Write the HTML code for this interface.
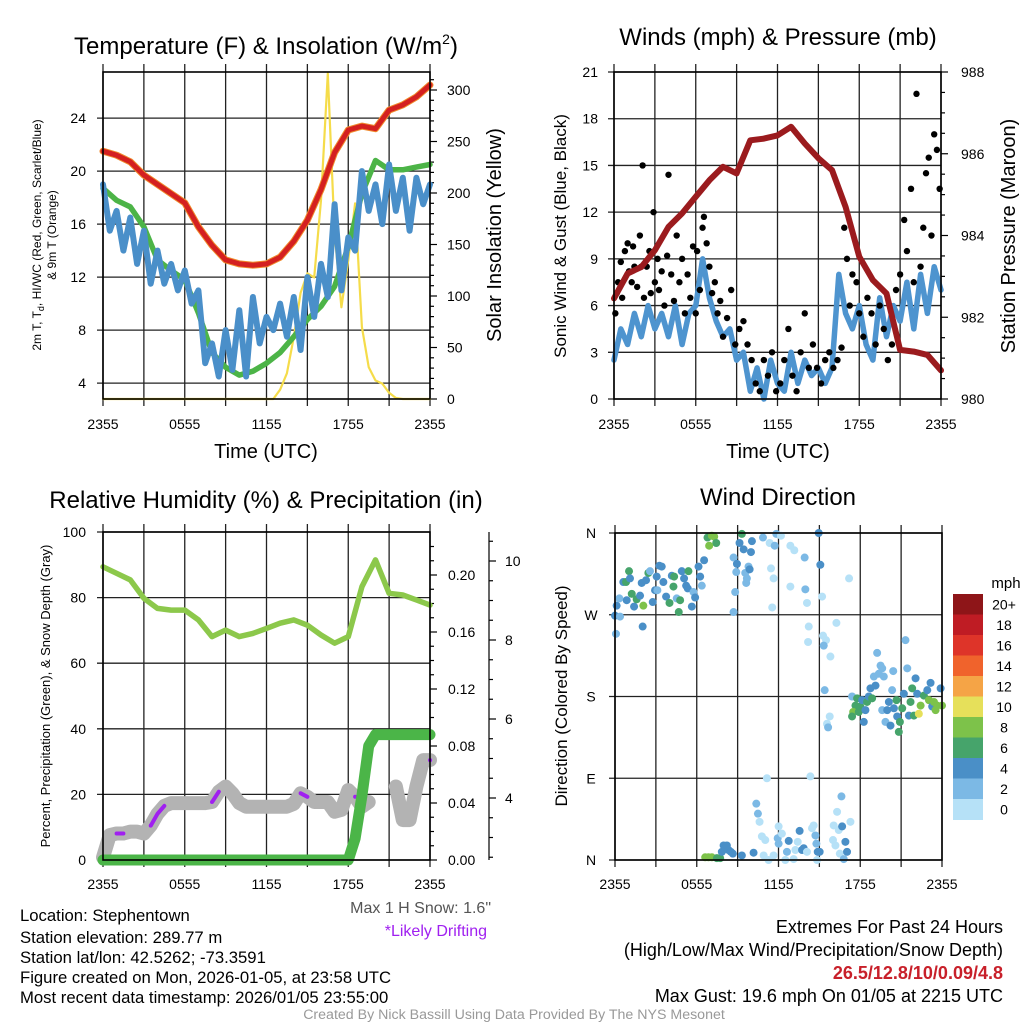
<!DOCTYPE html>
<html><head><meta charset="utf-8">
<style>
html,body{margin:0;padding:0;background:#fff;}
svg{display:block;font-family:"Liberation Sans",Arial,sans-serif;}
</style></head>
<body>
<svg id="chart" width="1024" height="1024" viewBox="0 0 1024 1024" xmlns="http://www.w3.org/2000/svg">
<rect x="0" y="0" width="1024" height="1024" fill="#fff"/>
<text x="266" y="54" font-size="24" text-anchor="middle">Temperature (F) &amp; Insolation (W/m<tspan font-size="14" dy="-10">2</tspan><tspan dy="10">)</tspan></text>
<text x="778" y="45" font-size="24" text-anchor="middle">Winds (mph) &amp; Pressure (mb)</text>
<text x="266" y="508" font-size="24" text-anchor="middle">Relative Humidity (%) &amp; Precipitation (in)</text>
<text x="778" y="505" font-size="24" text-anchor="middle">Wind Direction</text>

<text transform="translate(41,235) rotate(-90)" font-size="12" text-anchor="middle">2m T, T<tspan font-size="9" dy="3">d</tspan><tspan dy="-3">, HI/WC (Red, Green, Scarlet/Blue)</tspan></text>
<text transform="translate(56,235) rotate(-90)" font-size="12" text-anchor="middle">&amp; 9m T (Orange)</text>
<text transform="translate(501,235) rotate(-90)" font-size="20" text-anchor="middle">Solar Insolation (Yellow)</text>
<text x="266" y="458" font-size="20" text-anchor="middle">Time (UTC)</text>
<text transform="translate(566,236) rotate(-90)" font-size="17" text-anchor="middle">Sonic Wind &amp; Gust (Blue, Black)</text>
<text transform="translate(1015,236) rotate(-90)" font-size="20" text-anchor="middle">Station Pressure (Maroon)</text>
<text x="778" y="458" font-size="20" text-anchor="middle">Time (UTC)</text>
<text transform="translate(50,696) rotate(-90)" font-size="13" text-anchor="middle">Percent, Precipitation (Green), &amp; Snow Depth (Gray)</text>
<text transform="translate(567,696) rotate(-90)" font-size="17" text-anchor="middle">Direction (Colored By Speed)</text>

<text x="491" y="913" font-size="16" fill="#555" text-anchor="end">Max 1 H Snow: 1.6"</text>
<text x="487" y="936" font-size="16" fill="#a020f0" text-anchor="end">*Likely Drifting</text>
<g font-size="16.7">
<text x="20" y="921">Location: Stephentown</text>
<text x="20" y="943">Station elevation: 289.77 m</text>
<text x="20" y="963">Station lat/lon: 42.5262; -73.3591</text>
<text x="20" y="983">Figure created on Mon, 2026-01-05, at 23:58 UTC</text>
<text x="20" y="1003">Most recent data timestamp: 2026/01/05 23:55:00</text>
</g>
<g font-size="18" text-anchor="end">
<text x="1003" y="933">Extremes For Past 24 Hours</text>
<text x="1003" y="956">(High/Low/Max Wind/Precipitation/Snow Depth)</text>
<text x="1003" y="979" font-weight="bold" fill="#c8202a">26.5/12.8/10/0.09/4.8</text>
<text x="1003" y="1002">Max Gust: 19.6 mph On 01/05 at 2215 UTC</text>
</g>
<text x="514" y="1019" font-size="14.2" fill="#999" text-anchor="middle">Created By Nick Bassill Using Data Provided By The NYS Mesonet</text>
</svg>
<script>
// ---------- data ----------
const timeTickLabels = ["2355","0555","1155","1755","2355"];
const timeTickHours = [0,6,12,18,24];
// Panel 1 (hourly)
const temp2m = [21.5,21.2,20.7,19.7,19.0,18.3,17.6,15.8,14.4,13.3,13.0,12.9,13.0,13.5,14.7,16.3,18.6,21.4,23.1,23.4,23.2,24.6,25.0,25.6,26.5];
const dewpoint = [18.7,17.8,17.3,15.8,13.3,12.5,11.8,9.3,6.3,5.2,4.6,4.9,5.5,6.3,7.5,8.8,9.8,11.3,14.3,18.3,20.8,20.1,20.1,20.3,20.5];
// Panel 1 (half-hourly)
const windChill = [19,15.5,17,14,16.5,13,15.5,11.5,14,11.5,13,11,12.5,10,11,5.5,7,4.5,8,5,9.5,4.5,10.5,7,9,8,10,7.5,10.5,6.5,12,9,13,10.5,17.5,11,15,14,20,17,19,16,20.5,17,19.5,15.5,19.5,17.5,19];
const solar = [0,0,0,0,0,0,0,0,0,0,0,0,0,0,0,0,0,0,0,0,0,0,0,0,0,0,9,25,60,103,122,118,193,316,161,89,135,190,70,31,18,15,6,1,0,0,0,0,0];
const tempTicks = [4,8,12,16,20,24];
const solarTicks = [0,50,100,150,200,250,300];
// Panel 2
const pressure = [982.46,983.07,983.23,983.64,984.21,984.54,984.95,985.35,985.68,985.52,986.33,986.37,986.45,986.66,986.25,985.89,985.6,984.7,983.48,982.91,982.58,981.2,981.16,981.08,980.7];
const windSpeed = [2.5,4.5,3.5,5.5,4,6,4.5,5.5,4,6,3.5,5.5,6,9,6.5,5,4,4.5,2.5,3,0.5,2,0,2.5,1,0.5,3,1,2.5,1.5,2,1,2,8,5.5,4.5,6,3.5,2.5,6.5,4,6,5,7.5,4.5,8,5.5,8.5,7];
const gustHours = [0.1,0.2,0.3,0.5,0.6,0.8,1.0,1.1,1.3,1.4,1.5,1.7,1.9,2.0,2.1,2.2,2.4,2.6,2.7,2.9,3.0,3.2,3.3,3.5,3.7,3.9,4.0,4.2,4.4,4.6,4.8,5.0,5.2,5.4,5.6,5.8,6.0,6.1,6.3,6.5,6.6,6.8,7.0,7.2,7.4,7.6,7.8,8.0,8.3,8.6,8.9,9.2,9.5,9.8,10.1,10.4,10.7,11.0,11.3,11.6,11.9,12.2,12.5,12.8,13.1,13.4,13.7,14.0,14.3,14.6,14.9,15.2,15.5,15.8,16.1,16.4,16.7,16.9,17.1,17.3,17.5,17.8,18.0,18.3,18.6,18.9,19.2,19.5,19.8,20.1,20.4,20.7,21.0,21.3,21.5,21.8,22.0,22.2,22.5,22.7,22.9,23.1,23.3,23.5,23.7,23.9];
const gustValues = [5.5,6.8,7.5,8.8,6.5,9.5,10,8.2,7.5,9.8,8.5,7.2,10.5,8.5,15,6.5,8.5,9.5,6.8,12,7.5,9,7,8.2,6,9.2,14.4,8,6.3,10.5,7.5,9,5.5,8,6.5,9.8,5.5,9.5,7,11,11.7,10,8.5,6.8,7.5,5.5,6.3,4,5.2,7,3.5,4.5,5,3.5,2.5,1,0.5,2.5,1.5,3,0.5,1,2.5,4.5,1.5,0.5,3,5.5,2,3.5,2,1,2.5,3,2,2.5,3.3,11,9,6,8,7.5,5.5,4,6.5,5.5,3.5,6,4.5,2.5,3.5,7,8,11.5,9.5,13.5,7.5,19.6,8.5,11,14.5,15.5,10.5,17,16,13.5];
const windTicks = [0,3,6,9,12,15,18,21];
const pressureTicks = [980,982,984,986,988];
// Panel 3
const relHumidity = [89.4,87.4,85.4,79.8,76.7,76.2,76.2,73.2,68.1,70.1,68.1,69.1,70.6,72.2,73.2,71.6,68.6,66.1,68.1,83.3,91.5,81.3,80.8,79.3,77.7];
const precip = [0,0,0,0,0,0,0,0,0,0,0,0,0,0,0,0,0,0,0,0,0,0,0,0,0,0,0,0,0,0,0,0,0,0,0,0,0,0.015,0.045,0.08,0.088,0.088,0.088,0.088,0.088,0.088,0.088,0.088,0.088];
const snowDepth = [2.5,3.06,3.1,3.1,3.15,3.15,3.1,3.3,3.6,3.8,3.87,3.87,3.87,3.87,3.87,3.87,3.9,4.16,4.29,4.12,3.87,3.78,3.78,3.78,3.78,3.78,3.78,3.78,3.85,4.12,4.03,3.9,3.9,3.9,3.65,3.7,4.2,4.03,3.78,3.9,null,null,null,4.29,3.44,3.44,4.29,4.96,4.96];
const drifting = [0,0,1,1,0,0,0,1,1,1,0,0,0,0,0,0,1,1,0,0,0,0,0,0,0,0,0,0,0,1,1,0,0,0,0,0,0,1,0,0,0,0,0,0,0,0,0,0,1];
const rhTicks = [0,20,40,60,80,100];
const precipTicks = [0,0.04,0.08,0.12,0.16,0.20];
const snowTicks = [4,6,8,10];
// Panel 4
const dirHours = [0.0,0.07,0.12,0.37,0.32,0.61,0.81,1.03,1.1,0.86,1.23,1.4,1.59,1.84,1.96,2.08,2.03,2.28,2.45,2.57,2.77,2.94,3.06,3.26,3.43,3.11,3.55,3.75,4.0,4.17,4.34,4.29,4.53,4.68,4.78,4.9,5.07,5.22,5.39,5.34,5.64,5.76,5.88,6.13,6.25,6.37,6.54,
6.79,7.11,7.28,7.43,6.91,8.7,8.82,8.7,8.9,8.95,9.14,9.31,9.44,9.56,9.68,9.63,9.8,9.88,9.98,10.05,10.86,11.35,11.45,11.64,11.72,11.54,11.84,12.18,12.87,13.16,12.87,13.92,13.97,14.09,14.22,14.17,14.95,15.07,15.2,15.27,15.49,15.32,15.81,16.25,17.18,15.39,15.76,15.56,15.64,
17.4,17.77,17.65,17.48,17.4,17.89,18.01,18.14,18.26,18.38,18.5,18.63,18.75,18.87,19.0,19.12,19.24,19.36,19.49,19.61,19.73,19.61,19.85,19.98,20.1,20.22,20.34,20.42,20.47,20.66,20.71,20.83,20.91,21.08,21.2,21.32,21.45,21.57,21.69,21.81,21.94,22.06,22.18,22.3,22.43,22.67,22.92,23.04,23.16,23.28,23.41,23.53,23.65,23.9,24,
6.62,6.86,7.11,7.48,7.72,7.84,7.97,8.09,8.21,8.33,8.5,8.65,9.31,10.17,10.37,10.49,10.61,10.78,11.03,10.91,11.15,11.27,11.64,12.01,11.94,12.01,12.25,12.5,12.62,12.75,13.11,13.24,13.41,13.55,13.73,13.85,14.09,14.34,14.46,14.58,14.71,14.78,14.88,15.02,14.83,16.0,16.05,16.18,16.3,16.42,16.5,16.62,16.67,16.79,16.91,17.03,17.28];
const dirDegrees = [269,249,280,268,288,306,306,318,310,286,293,279,287,291,305,280,257,308,316,318,284,297,312,324,323,297,306,290,283,313,312,301,288,273,286,318,310,302,318,299,279,295,289,323,312,302,330,
355,357,356,349,346,333,295,273,317,326,349,359,342,316,310,305,323,320,339,351,355,349,321,310,346,278,359,357,346,341,301,333,298,283,257,240,360,325,290,247,242,236,224,261,310,187,158,150,146,
180,178,170,163,158,163,169,176,152,165,174,180,189,178,202,192,228,205,214,211,202,165,152,165,174,148,187,208,167,176,158,141,152,167,183,242,211,159,174,189,159,200,183,161,170,181,187,176,195,169,174,165,170,189,170,
3,3,3,2,2,9,16,13,16,11,9,7,5,8,62,51,42,26,22,5,90,0,5,37,24,18,29,0,9,21,1,11,20,32,11,13,9,92,35,38,27,18,9,9,0,22,38,16,53,33,7,70,37,1,20,9,42];
const dirSpeeds = [5,3,5,3,3,5,7,7,5,5,7,5,7,5,5,9,5,5,7,3,5,5,5,5,5,3,5,5,7,5,7,7,3,7,7,5,5,5,7,5,5,3,5,5,5,3,5,
7,9,9,7,9,3,3,3,3,5,5,7,5,3,3,3,3,5,5,5,3,1,1,1,3,1,3,1,1,1,1,3,3,1,1,1,5,5,1,1,1,3,1,1,1,3,1,1,3,
3,7,7,9,7,7,7,5,5,5,7,5,5,7,3,5,3,3,3,3,3,3,3,5,5,5,3,3,5,7,5,7,7,7,5,3,3,5,7,7,7,5,5,11,9,7,5,9,5,5,9,9,9,5,9,
9,9,9,7,7,5,5,5,5,5,5,5,5,5,3,3,1,1,1,1,1,1,1,1,3,3,1,1,3,5,1,1,1,5,5,5,1,1,1,1,3,3,5,5,1,1,1,1,1,1,1,3,5,3,5,5,1];
const speedBinLabels = ["20+","18","16","14","12","10","8","6","4","2","0"];
const speedBinColors = ["#8e1518","#bf1c24","#de3429","#f0632c","#f5a446","#e6e05a","#7dc24a","#46a46b","#4a8fc7","#7cb9e5","#b6e1f7"];
const dirTickLabels = ["N","E","S","W","N"];
const dirTickDegrees = [0,90,180,270,360];

// ---------- helpers ----------
const NS = 'http://www.w3.org/2000/svg';
const svg = document.getElementById('chart');
function mk(tag, attrs, parent) {
  const e = document.createElementNS(NS, tag);
  for (const k in attrs) e.setAttribute(k, attrs[k]);
  (parent || svg).appendChild(e);
  return e;
}
function halfHour(i){ return i*0.5; }
function pathFrom(vals, xf, yf, tf){
  let d = ''; let pen = false;
  vals.forEach((v,i)=>{
    if (v === null) { pen = false; return; }
    d += (pen ? 'L' : 'M') + xf(tf(i)).toFixed(1) + ',' + yf(v).toFixed(1);
    pen = true;
  });
  return d;
}
const hourly = i => i;

function panelFrame(L, T, R, B, name) {
  const g = mk('g', {});
  
  
  for (let k = 0; k <= 8; k++) {
    const x = L + k*(R-L)/8;
    const ln = mk('line', {x1:x, x2:x, y1:T-8, y2:B+7, stroke:'#222', 'stroke-width':1.3}, g);
    
    
  }
  return g;
}
function border(L, T, R, B, name) {
  const r = mk('rect', {x:L, y:T, width:R-L, height:B-T, fill:'none', stroke:'#000', 'stroke-width':1.6});
  
  
}
function hline(L, R, y, name, g){
  const ln = mk('line', {x1:L-6, x2:R, y1:y, y2:y, stroke:'#222', 'stroke-width':1.3}, g);
  
  
}
function label(x, y, txt, anchor, size, name, fill){
  const t = mk('text', {x:x, y:y, 'font-size':size||14, 'text-anchor':anchor||'middle', fill:fill||'#000'});
  t.textContent = txt;
  
  
  return t;
}
function tick(x1,y1,x2,y2,name){
  const ln = mk('line', {x1:x1, y1:y1, x2:x2, y2:y2, stroke:'#000', 'stroke-width':1.2});
  
  
}
function series(d, color, w, name, extra){
  const p = mk('path', Object.assign({d:d, fill:'none', stroke:color, 'stroke-width':w, 'stroke-linejoin':'round', 'stroke-linecap':'round'}, extra||{}));
  
  
  return p;
}

// ---------- Panel 1 ----------
const p1 = {L:103, T:72, R:430, B:399};
const x1 = t => p1.L + t*(p1.R-p1.L)/24;
const yTemp = v => 399 - (v-2.8)*13.25;
const ySolar = w => 399 - w*1.03;
const g1 = panelFrame(p1.L,p1.T,p1.R,p1.B,'temperature');
tempTicks.forEach(v => {
  hline(p1.L, p1.R, yTemp(v), 'temperature-horizontal-gridline', g1);
  label(86, yTemp(v)+5, String(v), 'end', 14, 'temperature-tick-label');
});
for (let w = 0; w <= 310; w += 10) {
  tick(p1.R, ySolar(w), p1.R + (w%50===0 ? 7 : 4), ySolar(w), 'solar-tick');
}
solarTicks.forEach(w => label(447, ySolar(w)+5, String(w), 'start', 14, 'solar-tick-label'));
timeTickHours.forEach((h,i) => label(x1(h), 429, timeTickLabels[i], 'middle', 14, 'temperature-time-label'));
series(pathFrom(solar, x1, ySolar, halfHour), '#f5dc4a', 2.2, 'solar-insolation-line');
series(pathFrom(dewpoint, x1, yTemp, hourly), '#4cb447', 5.5, 'dewpoint-line');
series(pathFrom(windChill, x1, yTemp, halfHour), '#4a8fc9', 6, 'wind-chill-line');
series(pathFrom(temp2m, x1, yTemp, hourly), '#f08a2c', 7, 'nine-meter-temp-line');
series(pathFrom(temp2m, x1, yTemp, hourly), '#d42020', 5, 'two-meter-temp-line');
border(p1.L,p1.T,p1.R,p1.B,'temperature');

// ---------- Panel 2 ----------
const p2 = {L:614, T:72, R:941, B:399};
const x2 = t => p2.L + t*(p2.R-p2.L)/24;
const yWind = v => 399 - v*15.57;
const yPres = p => 399 - (p-980)*40.875;
const g2 = panelFrame(p2.L,p2.T,p2.R,p2.B,'winds');
windTicks.forEach(v => {
  hline(p2.L, p2.R, yWind(v), 'winds-horizontal-gridline', g2);
  label(598, yWind(v)+5, String(v), 'end', 14, 'wind-tick-label');
});
for (let p = 980; p <= 988.01; p += 0.5) {
  tick(p2.R, yPres(p), p2.R + (Math.abs(p%2)<0.01 ? 7 : 4), yPres(p), 'pressure-tick');
}
pressureTicks.forEach(p => label(961, yPres(p)+5, String(p), 'start', 14, 'pressure-tick-label'));
timeTickHours.forEach((h,i) => label(x2(h), 429, timeTickLabels[i], 'middle', 14, 'winds-time-label'));
series(pathFrom(windSpeed, x2, yWind, halfHour), '#4e94cf', 5.5, 'sonic-wind-line');
const gustGroup = mk('g', {});


gustHours.forEach((h,i) => {
  const c = mk('circle', {cx:x2(h), cy:yWind(gustValues[i]), r:3.2, fill:'#000'}, gustGroup);
  
  
});
series(pathFrom(pressure, x2, yPres, hourly), '#9b1b1e', 6, 'pressure-line');
border(p2.L,p2.T,p2.R,p2.B,'winds');

// ---------- Panel 3 ----------
const p3 = {L:103, T:532, R:430, B:860};
const x3 = t => p3.L + t*(p3.R-p3.L)/24;
const yRH = v => 860 - v*3.28;
const yPrecip = p => 860 - p*1425;
const ySnow = d => 956 - d*39.5;
const g3 = panelFrame(p3.L,p3.T,p3.R,p3.B,'humidity');
rhTicks.forEach(v => {
  hline(p3.L, p3.R, yRH(v), 'humidity-horizontal-gridline', g3);
  label(86, yRH(v)+5, String(v), 'end', 14, 'humidity-tick-label');
});
for (let p = 0; p <= 0.225; p += 0.01) {
  tick(p3.R, yPrecip(p), p3.R + (Math.round(p*100)%4===0 ? 7 : 4), yPrecip(p), 'precip-tick');
}
precipTicks.forEach(p => label(448, yPrecip(p)+5, p.toFixed(2), 'start', 14, 'precip-tick-label'));
tick(489, 532, 489, 860, 'snow-axis-line');
for (let d = 2.5; d <= 10.5; d += 0.5) {
  tick(489, ySnow(d), 489 + (d%2===0 ? 7 : 4), ySnow(d), 'snow-tick');
}
snowTicks.forEach(d => label(505, ySnow(d)+5, String(d), 'start', 14, 'snow-tick-label'));
timeTickHours.forEach((h,i) => label(x3(h), 889, timeTickLabels[i], 'middle', 14, 'humidity-time-label'));
series(pathFrom(relHumidity, x3, yRH, hourly), '#8cc84b', 5.5, 'relative-humidity-line');
series(pathFrom(snowDepth, x3, ySnow, halfHour), '#b3b3b3', 14, 'snow-depth-line');
let driftD = '';
drifting.forEach((f,i) => {
  if (!f || snowDepth[i] === null) return;
  const prev = i>0 && drifting[i-1] && snowDepth[i-1] !== null;
  driftD += (prev ? 'L' : 'M') + x3(halfHour(i)).toFixed(1) + ',' + ySnow(snowDepth[i]).toFixed(1);
  if (!prev) driftD += 'l0.1,0';
});
series(driftD, '#a020f0', 4, 'drifting-markers');
series(pathFrom(precip, x3, yPrecip, halfHour), '#4bb548', 11, 'precipitation-line');
border(p3.L,p3.T,p3.R,p3.B,'humidity');

// ---------- Panel 4 ----------
const p4 = {L:615, T:533, R:942, B:860};
const x4 = t => p4.L + t*(p4.R-p4.L)/24;
const yDir = d => 860 - d*(p4.B-p4.T)/360;
const g4 = panelFrame(p4.L,p4.T,p4.R,p4.B,'direction');
dirTickDegrees.forEach((d,i) => {
  hline(p4.L, p4.R, yDir(d), 'direction-horizontal-gridline', g4);
  label(591, yDir(d)+5, dirTickLabels[i], 'middle', 14, 'direction-tick-label');
});
timeTickHours.forEach((h,i) => label(x4(h), 889, timeTickLabels[i], 'middle', 14, 'direction-time-label'));
const dirGroup = mk('g', {});


dirHours.forEach((h,i) => {
  const bin = Math.min(10, Math.floor(dirSpeeds[i]/2));
  const c = mk('circle', {cx:x4(h), cy:yDir(dirDegrees[i]), r:4, fill:speedBinColors[10-bin]}, dirGroup);
  
  
});
border(p4.L,p4.T,p4.R,p4.B,'direction');
// colorbar
label(1006, 588, 'mph', 'middle', 15, 'colorbar-title');
const cbTop = 594, cbH = 20.5;
speedBinColors.forEach((col,i) => {
  const r = mk('rect', {x:953, y:cbTop + i*cbH, width:30, height:cbH+0.5, fill:col});
  
  
  label(1004, cbTop + i*cbH + cbH/2 + 5, speedBinLabels[i], 'middle', 14, 'colorbar-label');
});
</script>
</body></html>
